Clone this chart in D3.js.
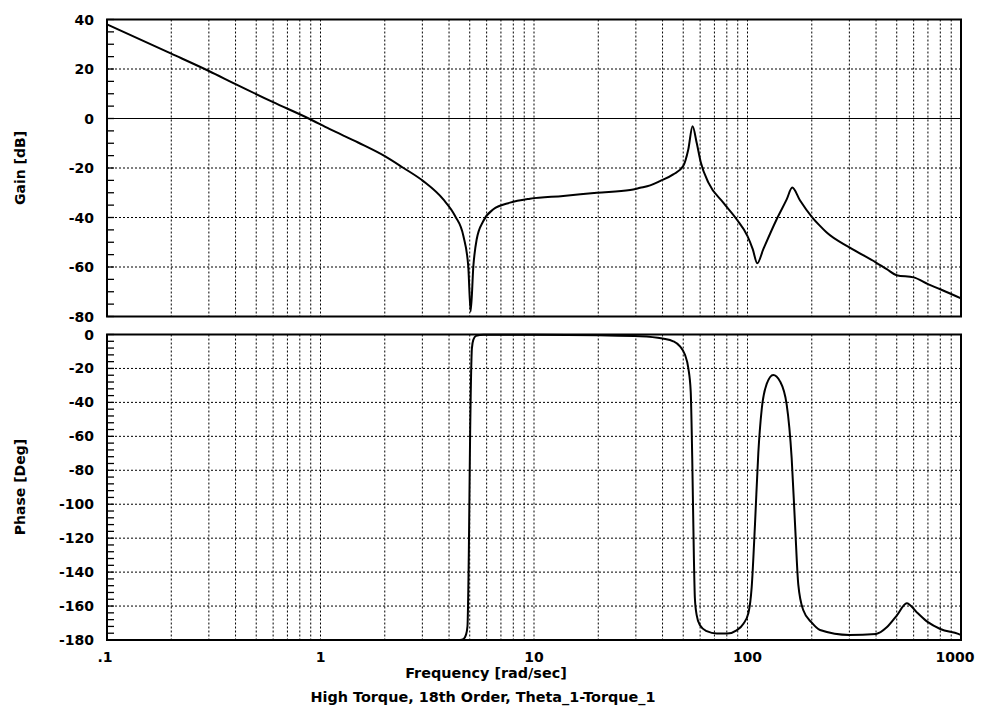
<!DOCTYPE html>
<html><head><meta charset="utf-8">
<script src="https://cdn.jsdelivr.net/npm/d3@7"></script>
<style>
html,body{margin:0;padding:0;background:#fff;}
text{font-family:"DejaVu Sans","Liberation Sans",Arial,sans-serif;font-weight:bold;fill:#000;}
</style></head>
<body><svg id="c" width="982" height="708"></svg>
<script>
// ---- data ----
const gainFreq = [0.1,0.2,0.3,0.4,0.6,0.88,1.1,1.5,2.0,2.44,3.03,3.76,4.27,4.67,4.92,5.05,5.2,5.39,5.79,6.45,7.72,9.57,13.7,19.7,28.2,31.4,35,38.9,44.9,50,52.8,55.3,57.8,60.5,65.6,77,88.9,100,105.8,111.1,118.6,137,152.6,162,176,200,218.6,235,300,400,449,500,600,700,800,1000];
const gainDB   = [38,26.2,19.2,13.9,6.6,0,-4.2,-9.7,-15.2,-19.9,-25.3,-32.7,-39.4,-47.5,-59.6,-78,-59.6,-48.8,-41.4,-36.7,-34,-32.4,-31.3,-30,-28.9,-28,-27,-25.3,-22.6,-19.2,-12.5,-3.1,-9.8,-17.9,-25.9,-34,-40.7,-47.5,-52.8,-58.5,-52.8,-40.7,-32.7,-27.9,-33,-39.7,-43.4,-46.1,-52.1,-58.2,-60.9,-63.3,-64.2,-66.9,-69,-72.7];
const phaseFreq = [0.1,4.5,4.67,4.8,4.88,4.95,5.02,5.12,5.2,5.35,5.8,10,20,31.4,40,44.9,48.3,50.9,52.8,54.2,55.1,56.1,56.7,57.8,59.9,64.4,71.8,80.3,88.9,95.7,101,104.6,108.4,112.4,116.6,123,132,142,152.6,161,167,173,182.6,200,218.6,300,400,449,500,557,620,700,800,971,1000];
const phaseDeg  = [-180,-180,-179.5,-177,-172,-130,-60,-8,-3,-0.8,-0.1,-0.2,-0.5,-1,-2.4,-4,-7,-11.8,-19.7,-33.5,-72.9,-131.9,-155.5,-165.3,-171.3,-174.8,-176.2,-176.2,-174.3,-170.4,-164.1,-149,-112,-69.5,-43.9,-29.1,-23.8,-27.6,-41.3,-72.8,-112,-147.5,-162.5,-169.8,-174.1,-177,-176.4,-172.5,-165.6,-158.3,-163.6,-169.5,-173.5,-176.4,-177];
const xTickValues = [0.1,1,10,100,1000];
const xTickLabels = [".1","1","10","100","1000"];
const gainTicks  = [40,20,0,-20,-40,-60,-80];
const phaseTicks = [0,-20,-40,-60,-80,-100,-120,-140,-160,-180];
const gainLabel = "Gain [dB]";
const phaseLabel = "Phase [Deg]";
const xLabel = "Frequency [rad/sec]";
const titleText = "High Torque, 18th Order, Theta_1-Torque_1";

// ---- layout ----
const svg = d3.select("#c");
const L = 107, R = 961;
const top1 = 19.5, bot1 = 316.5, top2 = 334.5, bot2 = 640;
const x = d3.scaleLog().domain([0.1,1000]).range([L,R]);
const yG = d3.scaleLinear().domain([-80,40]).range([bot1,top1]);
const yP = d3.scaleLinear().domain([-180,0]).range([bot2,top2]);

const vGrid = [];
for (let d=-1; d<3; d++) for (let k=1; k<=9; k++) { const v=k*Math.pow(10,d); if (v>0.1) vGrid.push(v); }

function panel(yScale, top, bot, ticks, minorStep, dom, zeroLine){
  const g = svg.append("g");
  g.selectAll(".vg").data(vGrid).join("line")
    .attr("x1",d=>x(d)).attr("x2",d=>x(d)).attr("y1",top).attr("y2",bot)
    .attr("stroke","#000").attr("stroke-width",1).attr("stroke-dasharray","2,2");
  g.selectAll(".hg").data(ticks.filter(t=>t!==dom[0] && t!==dom[1] && t!==zeroLine)).join("line")
    .attr("x1",L).attr("x2",R).attr("y1",d=>yScale(d)).attr("y2",d=>yScale(d))
    .attr("stroke","#000").attr("stroke-width",1).attr("stroke-dasharray","2,2");
  if (zeroLine!==null){
    g.append("line").attr("x1",L).attr("x2",R).attr("y1",yScale(zeroLine)).attr("y2",yScale(zeroLine))
      .attr("stroke","#000").attr("stroke-width",1.2);
  }
  const minors = d3.range(dom[0], dom[1]+0.001, minorStep);
  g.selectAll(".mt").data(minors).join("line")
    .attr("x1",L).attr("x2",L+7).attr("y1",d=>yScale(d)).attr("y2",d=>yScale(d))
    .attr("stroke","#000").attr("stroke-width",1.3);
  g.append("rect").attr("x",L).attr("y",top).attr("width",R-L).attr("height",bot-top)
    .attr("fill","none").attr("stroke","#000").attr("stroke-width",2);
  g.selectAll(".tl").data(ticks).join("text")
    .attr("x",94).attr("y",d=>yScale(d)).attr("dy","0.36em")
    .attr("text-anchor","end").attr("font-size",14).text(d=>d);
}
panel(yG, top1, bot1, gainTicks, 5, [-80,40], 0);
panel(yP, top2, bot2, phaseTicks, 4, [-180,0], null);

const gainLine = d3.line().x(d=>x(d[0])).y(d=>yG(d[1])).curve(d3.curveMonotoneX);
svg.append("path").attr("d", gainLine(d3.zip(gainFreq,gainDB)))
  .attr("fill","none").attr("stroke","#000").attr("stroke-width",2);
const phaseLine = d3.line().x(d=>x(d[0])).y(d=>yP(d[1])).curve(d3.curveMonotoneX);
svg.append("path").attr("d", phaseLine(d3.zip(phaseFreq,phaseDeg)))
  .attr("fill","none").attr("stroke","#000").attr("stroke-width",2);

svg.selectAll(".xl").data(xTickValues).join("text")
  .attr("x",(d,i)=>x(d) + (i===xTickValues.length-1 ? -6 : (i===0 ? -2 : 0)))
  .attr("y",662).attr("text-anchor","middle").attr("font-size",14)
  .text((d,i)=>xTickLabels[i]);

svg.append("text").attr("x",486).attr("y",678).attr("text-anchor","middle").attr("font-size",14.4).text(xLabel);
svg.append("text").attr("x",483).attr("y",702).attr("text-anchor","middle").attr("font-size",14.4).text(titleText);

svg.append("text").attr("transform","translate(25,168) rotate(-90)").attr("text-anchor","middle").attr("font-size",14).text(gainLabel);
svg.append("text").attr("transform","translate(25,487) rotate(-90)").attr("text-anchor","middle").attr("font-size",14).text(phaseLabel);
</script></body></html>
